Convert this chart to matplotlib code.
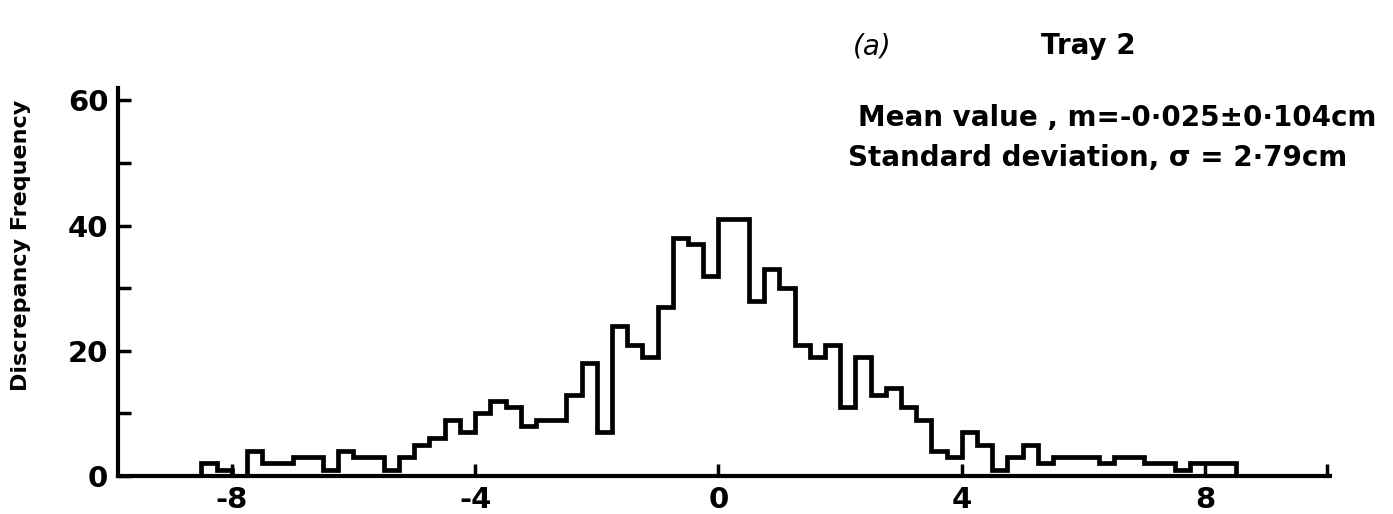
import numpy as np
import matplotlib
matplotlib.use("Agg")
import matplotlib.pyplot as plt

# histogram of discrepancies, 0.25 cm bins from -8.5 to 8.5
bin_start = -8.5
bin_width = 0.25
counts = [2, 1, 0, 4, 2, 2, 3, 3, 1, 4,
          3, 3, 1, 3, 5, 6, 9, 7, 10, 12,
          11, 8, 9, 9, 13, 18, 7, 24, 21, 19,
          27, 38, 37, 32, 41, 41, 28, 33, 30, 21,
          19, 21, 11, 19, 13, 14, 11, 9, 4, 3,
          7, 5, 1, 3, 5, 2, 3, 3, 3, 2,
          3, 3, 2, 2, 1, 2, 2, 2]

x_ticks = [-8, -4, 0, 4, 8]
x_ticklabels = ["-8", "-4", "0", "4", "8"]
y_ticks = [0, 20, 40, 60]
y_minor = [10, 30, 50]

edges = bin_start + bin_width * np.arange(len(counts) + 1)

fig = plt.figure(figsize=(13.93, 5.14), dpi=100)
ax = fig.add_axes([0.0847, 0.074, 0.870, 0.755])

ax.stairs(counts, edges, baseline=0, color="black", linewidth=3.4)

ax.set_xlim(-9.87, 10.05)
ax.set_ylim(0, 62)

for side in ["top", "right"]:
    ax.spines[side].set_visible(False)
for side in ["left", "bottom"]:
    ax.spines[side].set_linewidth(3)

ax.set_xticks(x_ticks)
ax.set_xticklabels(x_ticklabels)
ax.set_xticks([10], minor=True)
ax.set_yticks(y_ticks)
ax.set_yticks(y_minor, minor=True)
ax.tick_params(which="both", direction="in", width=2.5, length=9)
ax.tick_params(labelsize=21, pad=7)
for lab in ax.get_xticklabels() + ax.get_yticklabels():
    lab.set_fontweight("bold")

ax.set_ylabel("Discrepancy Frequency", fontsize=16, fontweight="bold")
ax.yaxis.set_label_coords(-0.072, 0.595)

# annotation block
fig.text(0.612, 0.910, "(a)", fontsize=20, style="italic", ha="left", va="center")
fig.text(0.747, 0.910, "Tray 2", fontsize=20, fontweight="bold", ha="left", va="center")
fig.text(0.616, 0.770, "Mean value , m=-0·025±0·104cm", fontsize=20,
         fontweight="bold", ha="left", va="center")
fig.text(0.609, 0.693, "Standard deviation, σ = 2·79cm", fontsize=20,
         fontweight="bold", ha="left", va="center")

fig.savefig("out.png", dpi=100, facecolor="white")
